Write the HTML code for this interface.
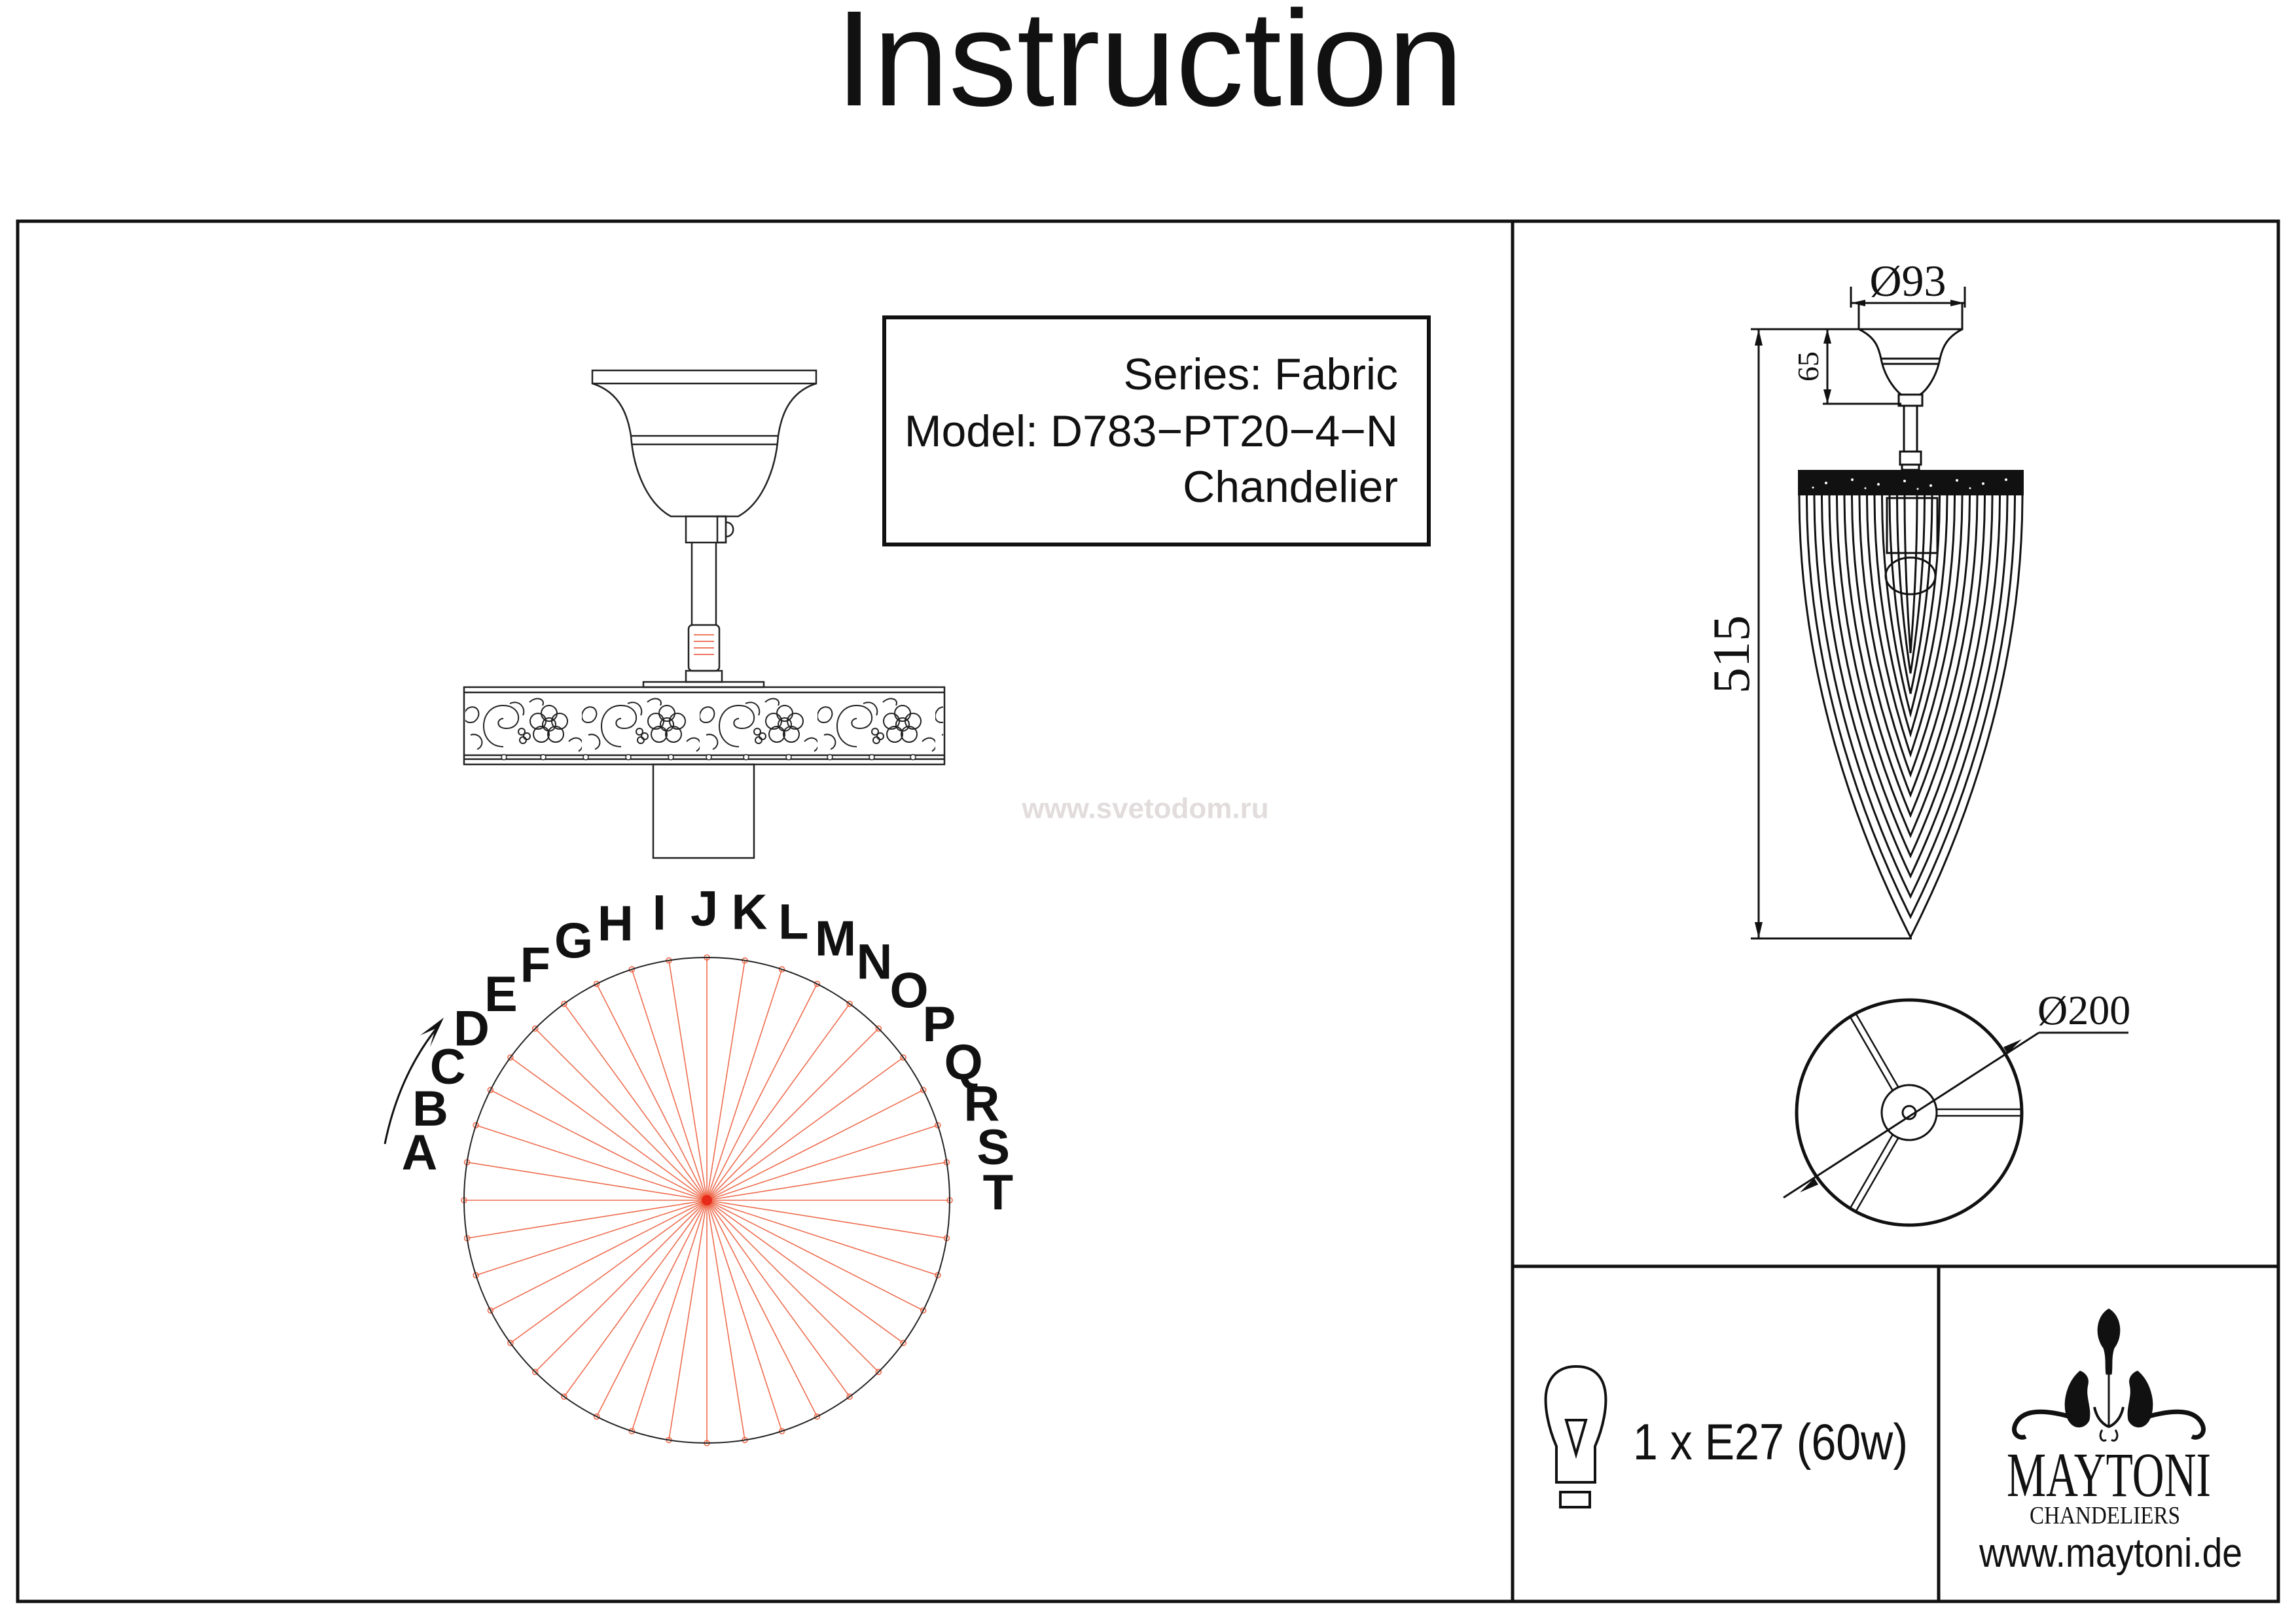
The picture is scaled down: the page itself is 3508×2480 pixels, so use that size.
<!DOCTYPE html>
<html><head><meta charset="utf-8"><style>html,body{margin:0;padding:0;background:#fff}svg{display:block}</style></head>
<body>
<svg xmlns="http://www.w3.org/2000/svg" width="3508" height="2480" viewBox="0 0 3508 2480">
<defs>
<pattern id="orn" x="709" y="1063" width="180" height="88" patternUnits="userSpaceOnUse">
<g fill="none" stroke="#222" stroke-width="2">
<circle cx="130" cy="44" r="10"/>
<circle cx="130" cy="27" r="12"/><circle cx="146" cy="39" r="12"/><circle cx="140" cy="59" r="12"/><circle cx="118" cy="59" r="12"/><circle cx="113" cy="39" r="12"/>
<path d="M60 78 C20 78 20 15 60 15 C90 15 90 50 65 50 C48 50 50 35 60 35"/>
<path d="M70 12 C85 5 95 20 90 30"/>
<circle cx="88" cy="55" r="5"/><circle cx="96" cy="62" r="5"/><circle cx="90" cy="68" r="5"/>
<path d="M5 20 C20 10 30 30 15 40 C0 45 -5 30 5 20Z"/>
<path d="M160 70 C175 55 190 75 175 85"/>
<path d="M10 60 C25 55 35 75 20 82"/>
<path d="M100 10 C110 0 125 5 120 15"/>
</g>
</pattern>
</defs>
<rect width="3508" height="2480" fill="#fff"/>
<text x="1756" y="161" font-family="Liberation Sans, sans-serif" font-size="208" text-anchor="middle" fill="#111">Instruction</text>
<g fill="none" stroke="#111" stroke-width="5">
<rect x="27" y="338" width="3454" height="2109"/>
<line x1="2311" y1="338" x2="2311" y2="2447"/>
<line x1="2311" y1="1935" x2="3481" y2="1935"/>
<line x1="2962" y1="1935" x2="2962" y2="2447"/>
<rect x="1351" y="485" width="832" height="347" stroke-width="6"/>
</g>
<g font-family="Liberation Sans, sans-serif" font-size="68" text-anchor="end" fill="#111">
<text x="2136" y="595">Series: Fabric</text>
<text x="2136" y="682">Model: D783−PT20−4−N</text>
<text x="2136" y="767">Chandelier</text>
</g>
<text x="1750" y="1250" font-family="Liberation Sans, sans-serif" font-weight="bold" font-size="44" text-anchor="middle" fill="#e2dcdc">www.svetodom.ru</text>

<!-- left fixture -->
<g fill="none" stroke="#222" stroke-width="2.5">
<rect x="905" y="566" width="342" height="20"/>
<path d="M905 586 C950 600 960 640 964 666 C968 720 990 770 1025 789 L1128 789 C1163 770 1185 720 1189 666 C1193 640 1203 600 1247 586"/>
<line x1="964" y1="666" x2="1189" y2="666"/>
<line x1="965" y1="679" x2="1188" y2="679"/>
<rect x="1048" y="789" width="61" height="40"/>
<rect x="1096" y="789" width="13" height="40"/>
<path d="M1109 798 C1124 798 1124 820 1109 820"/>
<line x1="1057" y1="829" x2="1057" y2="955"/><line x1="1094" y1="829" x2="1094" y2="955"/>
<rect x="1052" y="955" width="47" height="70" rx="6"/>
<rect x="1048" y="1025" width="55" height="17"/>
<rect x="983" y="1042" width="184" height="8"/>
<rect x="709" y="1050" width="734" height="118"/>
<line x1="709" y1="1058" x2="1443" y2="1058"/>
<line x1="709" y1="1154" x2="1443" y2="1154"/>
<line x1="709" y1="1160" x2="1443" y2="1160"/>
<rect x="998" y="1168" width="154" height="143"/>
</g>
<g stroke="#e84a2a" stroke-width="1.5"><line x1="1060" y1="970" x2="1091" y2="970"/><line x1="1060" y1="980" x2="1091" y2="980"/><line x1="1060" y1="990" x2="1091" y2="990"/><line x1="1060" y1="1000" x2="1091" y2="1000"/></g>
<rect x="711" y="1063" width="730" height="88" fill="url(#orn)"/>
<g fill="#fff" stroke="#222" stroke-width="1.5">
<circle cx="770" cy="1157" r="4"/><circle cx="830" cy="1157" r="4"/><circle cx="895" cy="1157" r="4"/><circle cx="960" cy="1157" r="4"/><circle cx="1025" cy="1157" r="4"/><circle cx="1083" cy="1157" r="4"/><circle cx="1140" cy="1157" r="4"/><circle cx="1205" cy="1157" r="4"/><circle cx="1268" cy="1157" r="4"/><circle cx="1332" cy="1157" r="4"/><circle cx="1395" cy="1157" r="4"/>
</g>

<!-- circle diagram -->
<g id="spokes" stroke="#ee6a4c" stroke-width="1.6" fill="none"></g>
<circle cx="1080" cy="1834" r="371" fill="none" stroke="#222" stroke-width="2"/>
<circle cx="1080" cy="1834" r="8" fill="#e82a1a"/>
<g id="letters" font-family="Liberation Sans, sans-serif" font-weight="bold" font-size="76" fill="#111" text-anchor="middle" dominant-baseline="central"></g>
<path d="M588 1748 Q610 1640 672 1565" fill="none" stroke="#111" stroke-width="3"/>
<path d="M678 1555 L642 1582 L665 1572 L657 1600 Z" fill="#111"/>

<!-- right chandelier -->
<g fill="none" stroke="#111" stroke-width="3">
<line x1="2828" y1="438" x2="2828" y2="470"/><line x1="3002" y1="438" x2="3002" y2="470"/>
<line x1="2828" y1="463" x2="3002" y2="463"/>
<rect x="2840" y="463" width="158" height="40"/>
<path d="M2840 503 C2865 515 2870 530 2874 548 C2880 580 2900 600 2905 603 L2933 603 C2940 600 2958 580 2964 548 C2968 530 2975 515 2998 503"/>
<line x1="2874" y1="548" x2="2964" y2="548"/><line x1="2876" y1="556" x2="2962" y2="556"/>
<rect x="2901" y="603" width="36" height="17"/>
<rect x="2909" y="620" width="20" height="70"/>
<rect x="2903" y="690" width="32" height="20"/>
<rect x="2906" y="710" width="26" height="8"/>
<line x1="2687" y1="503" x2="2687" y2="1434"/>
<line x1="2675" y1="503" x2="2845" y2="503"/>
<line x1="2675" y1="1434" x2="2921" y2="1434"/>
<line x1="2792" y1="503" x2="2792" y2="617"/>
<line x1="2785" y1="617" x2="2905" y2="617"/>
<rect x="2883" y="761" width="77" height="84"/>
<ellipse cx="2919" cy="880" rx="38" ry="28"/>
</g>
<g fill="#111">
<path d="M2828 463 l22 -5 v10z"/><path d="M3002 463 l-22 -5 v10z"/>
<path d="M2687 503 l-6 25 h12z"/><path d="M2687 1434 l-6 -25 h12z"/>
<path d="M2792 503 l-6 22 h12z"/><path d="M2792 617 l-6 -22 h12z"/>
<rect x="2747" y="718" width="345" height="39"/>
</g>
<g fill="#fff"><circle cx="2790" cy="738" r="2"/><circle cx="2830" cy="733" r="2"/><circle cx="2870" cy="740" r="2"/><circle cx="2910" cy="735" r="2"/><circle cx="2950" cy="742" r="2"/><circle cx="2990" cy="734" r="2"/><circle cx="3030" cy="739" r="2"/><circle cx="3065" cy="733" r="2"/><circle cx="2770" cy="745" r="1.5"/><circle cx="2850" cy="746" r="1.5"/><circle cx="2930" cy="747" r="1.5"/><circle cx="3010" cy="746" r="1.5"/></g>
<g id="cone" fill="none" stroke="#111" stroke-width="3"></g>
<g font-family="Liberation Serif, serif" fill="#111">
<text x="2915" y="452" font-size="68" text-anchor="middle">Ø93</text>
<text transform="translate(2778,560) rotate(-90)" font-size="46" text-anchor="middle">65</text>
<text transform="translate(2672,1000) rotate(-90)" font-size="80" text-anchor="middle">515</text>
<text x="3113" y="1565" font-size="64">Ø200</text>
</g>

<!-- plan circle -->
<g fill="none" stroke="#111">
<circle cx="2917" cy="1700" r="172" stroke-width="5"/>
<circle cx="2917" cy="1700" r="42" stroke-width="3"/>
<circle cx="2917" cy="1700" r="10" stroke-width="3"/>
<g stroke-width="2.5">
<line x1="2959" y1="1695" x2="3087" y2="1695"/><line x1="2959" y1="1705" x2="3087" y2="1705"/>
<g transform="rotate(120 2917 1700)"><line x1="2959" y1="1695" x2="3087" y2="1695"/><line x1="2959" y1="1705" x2="3087" y2="1705"/></g>
<g transform="rotate(240 2917 1700)"><line x1="2959" y1="1695" x2="3087" y2="1695"/><line x1="2959" y1="1705" x2="3087" y2="1705"/></g>
</g>
<line x1="2725" y1="1830" x2="3115" y2="1578" stroke-width="3"/>
<line x1="3115" y1="1578" x2="3252" y2="1578" stroke-width="3"/>
</g>
<g fill="#111"><path d="M2772 1800 l-22 22 l28 -12z"/><path d="M3067 1610 l22 -22 l-28 12z"/></g>

<!-- bulb -->
<g fill="none" stroke="#111" stroke-width="4">
<path d="M2378 2265 L2378 2210 C2365 2180 2360 2150 2362 2130 C2366 2100 2385 2088 2408 2088 C2432 2088 2450 2100 2453 2130 C2455 2150 2450 2180 2437 2210 L2437 2265 Z"/>
<path d="M2393 2170 L2423 2170 L2408 2222 Z"/>
<rect x="2384" y="2280" width="45" height="23"/>
</g>
<text x="2495" y="2230" font-family="Liberation Sans, sans-serif" font-size="78" fill="#111" textLength="420" lengthAdjust="spacingAndGlyphs">1 x E27 (60w)</text>

<!-- logo -->
<g fill="#111" stroke="#111">
<path d="M3222 2000 C3240 2010 3245 2040 3230 2060 C3225 2075 3228 2090 3226 2100 L3218 2100 C3216 2090 3219 2075 3214 2060 C3199 2040 3204 2010 3222 2000Z"/>
<line x1="3222" y1="2100" x2="3222" y2="2180" stroke-width="3"/>
<path d="M3178 2095 C3160 2110 3150 2140 3158 2165 C3165 2185 3185 2185 3192 2170 C3196 2150 3185 2135 3190 2115 C3192 2105 3186 2098 3178 2095Z"/>
<path d="M3266 2095 C3284 2110 3294 2140 3286 2165 C3279 2185 3259 2185 3252 2170 C3248 2150 3259 2135 3254 2115 C3252 2105 3258 2098 3266 2095Z"/>
<path d="M3180 2170 C3150 2160 3095 2145 3080 2175 C3072 2190 3085 2200 3095 2195" fill="none" stroke-width="7"/>
<path d="M3264 2170 C3294 2160 3349 2145 3364 2175 C3372 2190 3359 2200 3349 2195" fill="none" stroke-width="7"/>
<path d="M3200 2150 C3205 2175 3222 2180 3222 2180 C3222 2180 3239 2175 3244 2150" fill="none" stroke-width="4"/>
<path d="M3212 2185 C3205 2195 3212 2205 3218 2200 M3232 2185 C3239 2195 3232 2205 3226 2200" fill="none" stroke-width="3"/>
</g>
<text x="3222" y="2286" font-family="Liberation Serif, serif" font-size="96" text-anchor="middle" fill="#111" textLength="312" lengthAdjust="spacingAndGlyphs">MAYTONI</text>
<text x="3216" y="2328" font-family="Liberation Serif, serif" font-size="38" text-anchor="middle" fill="#111" textLength="230" lengthAdjust="spacingAndGlyphs">CHANDELIERS</text>
<text x="3225" y="2394" font-family="Liberation Sans, sans-serif" font-size="62" text-anchor="middle" fill="#111" textLength="402" lengthAdjust="spacingAndGlyphs">www.maytoni.de</text>
</svg>
<script>
(function(){
var ns="http://www.w3.org/2000/svg";
var sp=document.getElementById("spokes");
for(var i=0;i<40;i++){var a=i*9*Math.PI/180;var x=1080+371*Math.cos(a),y=1834+371*Math.sin(a);
var l=document.createElementNS(ns,"line");l.setAttribute("x1",1080);l.setAttribute("y1",1834);l.setAttribute("x2",x.toFixed(1));l.setAttribute("y2",y.toFixed(1));sp.appendChild(l);
var c=document.createElementNS(ns,"circle");c.setAttribute("cx",x.toFixed(1));c.setAttribute("cy",y.toFixed(1));c.setAttribute("r",4);sp.appendChild(c);}
var L="ABCDEFGHIJKLMNOPQRST",g=document.getElementById("letters");
for(var i=0;i<20;i++){var t=(170.6-8.9*i)*Math.PI/180;var e=document.createElementNS(ns,"text");
e.setAttribute("x",(1080+445*Math.cos(t)).toFixed(1));e.setAttribute("y",(1834-445*Math.sin(t)).toFixed(1));e.textContent=L[i];g.appendChild(e);}
var cone=document.getElementById("cone");var tipX=2919,n=15;
for(var i=0;i<n;i++){var xL=2749+i*11.5,xR=3090-i*11.5,ty=1432-i*31,h=ty-757;
var d="M"+xL+" 757 C"+xL+" "+(757+h*0.4)+" "+(xL+(tipX-xL)*0.5)+" "+(ty-h*0.25)+" "+tipX+" "+ty+" C"+(xR-(xR-tipX)*0.5)+" "+(ty-h*0.25)+" "+xR+" "+(757+h*0.4)+" "+xR+" 757";
var p=document.createElementNS(ns,"path");p.setAttribute("d",d);cone.appendChild(p);}
})();
</script>
</body></html>
